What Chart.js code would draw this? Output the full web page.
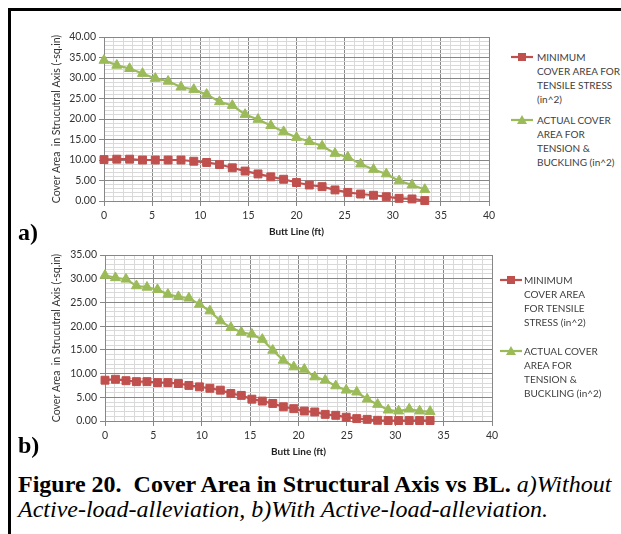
<!DOCTYPE html>
<html>
<head>
<meta charset="utf-8">
<script src="https://cdn.jsdelivr.net/npm/chart.js@4.4.1/dist/chart.umd.min.js"></script>
<style>
  html, body { margin: 0; padding: 0; background: #fff; }
  body { width: 621px; height: 534px; position: relative; overflow: hidden; }
  .frame { position: absolute; left: 8px; top: 8px; width: 640px; height: 560px;
           border-top: 3px solid #000; border-left: 3px solid #000; box-sizing: border-box; }
  .cv { position: absolute; }
  .lbl { position: absolute; font-family: "Liberation Serif", serif; font-weight: bold; font-size: 24px; color: #000; }
  .legend { position: absolute; font-family: Lato, "Open Sans", sans-serif; font-size: 10px;
            color: #404040; line-height: 14px; white-space: nowrap; }
  .legend .item { position: relative; }
  .legend svg { position: absolute; top: 0; }
  .caption { position: absolute; left: 18px; top: 472px; font-family: "Liberation Serif", "Times New Roman", serif;
             font-size: 24px; line-height: 25px; color: #000; white-space: nowrap; }
</style>
</head>
<body>
<div class="frame"></div>
<div class="cv" style="left:10px;top:25px;width:489px;height:213px;"><canvas id="chartA"></canvas></div>
<div class="cv" style="left:11px;top:243px;width:491px;height:215px;"><canvas id="chartB"></canvas></div>

<div class="lbl" style="left:18px;top:219px;">a)</div>
<div class="lbl" style="left:18px;top:432px;">b)</div>

<div class="legend" style="left:511px;top:50px;">
  <div class="item" style="padding-left:26px;">
    <svg width="24" height="14" style="left:0;"><line x1="0" y1="7" x2="22" y2="7" stroke="#C0504D" stroke-width="2.2"/><rect x="7" y="3" width="8" height="8" fill="#C0504D"/></svg>
    MINIMUM<br>COVER AREA FOR<br>TENSILE STRESS<br>(in^2)
  </div>
  <div class="item" style="padding-left:26px;margin-top:7px;">
    <svg width="24" height="14" style="left:0;"><line x1="0" y1="7" x2="22" y2="7" stroke="#9BBB59" stroke-width="2.2"/><polygon points="11,2 16,11 6,11" fill="#9BBB59"/></svg>
    ACTUAL COVER<br>AREA FOR<br>TENSION &amp;<br>BUCKLING (in^2)
  </div>
</div>

<div class="legend" style="left:500px;top:273px;">
  <div class="item" style="padding-left:24px;">
    <svg width="24" height="14" style="left:0;"><line x1="0" y1="7" x2="22" y2="7" stroke="#C0504D" stroke-width="2.2"/><rect x="7" y="3" width="8" height="8" fill="#C0504D"/></svg>
    MINIMUM<br>COVER AREA<br>FOR TENSILE<br>STRESS (in^2)
  </div>
  <div class="item" style="padding-left:24px;margin-top:15px;">
    <svg width="24" height="14" style="left:0;"><line x1="0" y1="7" x2="22" y2="7" stroke="#9BBB59" stroke-width="2.2"/><polygon points="11,2 16,11 6,11" fill="#9BBB59"/></svg>
    ACTUAL COVER<br>AREA FOR<br>TENSION &amp;<br>BUCKLING (in^2)
  </div>
</div>

<div class="caption"><b>Figure 20.&nbsp; Cover Area in Structural Axis vs BL.</b> <i>a)Without</i><br><i>Active-load-alleviation, b)With Active-load-alleviation.</i></div>

<script>
// ---- Data ----
const xA = [0, 1.33, 2.66, 4.0, 5.33, 6.66, 8.0, 9.33, 10.66, 12.0, 13.33, 14.66, 16.0,
            17.33, 18.66, 20.0, 21.33, 22.66, 24.0, 25.33, 26.66, 28.0, 29.33, 30.66, 32.0, 33.33];
const minAreaA = [10.1, 10.2, 10.2, 10.0, 10.0, 10.0, 10.0, 9.7, 9.4, 8.9, 8.1, 7.3, 6.6,
                  5.9, 5.3, 4.5, 3.9, 3.5, 2.7, 2.1, 1.7, 1.4, 1.05, 0.65, 0.5, 0.1];
const actAreaA = [34.3, 33.1, 32.3, 31.1, 29.9, 29.2, 27.8, 27.2, 26.0, 24.2, 23.3, 21.1, 19.9,
                  18.4, 16.9, 15.5, 14.5, 13.4, 11.6, 10.7, 9.0, 7.7, 6.6, 4.9, 3.9, 2.8];

const xB = [0, 1.08, 2.17, 3.25, 4.34, 5.42, 6.5, 7.59, 8.67, 9.76, 10.84, 11.92, 13.01, 14.09,
            15.18, 16.26, 17.34, 18.43, 19.51, 20.6, 21.68, 22.76, 23.85, 24.93, 26.02, 27.1,
            28.18, 29.27, 30.35, 31.44, 32.52, 33.6];
const minAreaB = [8.6, 8.8, 8.5, 8.3, 8.3, 8.1, 8.1, 7.9, 7.5, 7.2, 6.9, 6.5, 5.8, 5.4, 4.6, 4.2,
                  3.7, 3.0, 2.6, 2.1, 1.9, 1.4, 1.2, 0.8, 0.5, 0.35, 0.15, 0.1, 0.1, 0.1, 0.1, 0.1];
const actAreaB = [30.7, 30.2, 29.9, 28.5, 28.2, 27.7, 26.7, 26.2, 25.9, 24.6, 23.2, 21.1, 19.7,
                  18.7, 18.3, 17.2, 14.9, 12.8, 11.4, 10.9, 9.3, 8.6, 7.4, 6.5, 6.1, 4.6, 3.5,
                  2.3, 2.1, 2.5, 2.1, 2.0];

const seriesNames = ['MINIMUM COVER AREA FOR TENSILE STRESS (in^2)',
                     'ACTUAL COVER AREA FOR TENSION & BUCKLING (in^2)'];
const xTitle = 'Butt Line (ft)';
const yTitle = 'Cover Area  in Strucutral Axis (-sq.in)';
const xMax = 40;
const yMaxA = 40;
const yMaxB = 35;

// ---- Styles ----
const RED = '#C0504D', GREEN = '#9BBB59';
const MAJOR = '#878787', MINOR = '#D9D9D9';
const TICK_FONT = { family: 'Lato, "Open Sans", sans-serif', size: 10.5 };

function toPts(xs, ys) { return xs.map((x, i) => ({ x: x, y: ys[i] })); }
function isMajor(ctx) { return ctx.tick && Math.abs(ctx.tick.value % 5) < 1e-9; }

function makeChart(id, xs, mins, acts, yMax, titlePad) {
  return new Chart(document.getElementById(id), {
    type: 'line',
    data: {
      datasets: [
        { label: seriesNames[0], data: toPts(xs, mins), borderColor: RED, backgroundColor: RED,
          borderWidth: 2.2, pointStyle: 'rect', pointRadius: 5.6, pointBorderWidth: 1,
          pointBorderColor: RED, pointBackgroundColor: RED, clip: false, tension: 0 },
        { label: seriesNames[1], data: toPts(xs, acts), borderColor: GREEN, backgroundColor: GREEN,
          borderWidth: 2.2, pointStyle: 'triangle', pointRadius: 5.8, pointBorderWidth: 1,
          pointBorderColor: GREEN, pointBackgroundColor: GREEN, clip: false, tension: 0 }
      ]
    },
    options: {
      responsive: true, maintainAspectRatio: false, animation: false,
      layout: { padding: { top: 12, right: 10, bottom: 0, left: 0 } },
      plugins: { legend: { display: false }, tooltip: { enabled: false } },
      scales: {
        x: {
          type: 'linear', min: 0, max: xMax,
          ticks: { stepSize: 1, autoSkip: false, maxRotation: 0, padding: 3, color: '#333', font: TICK_FONT,
                   callback: v => (v % 5 === 0 ? String(v) : '') },
          grid: { color: c => isMajor(c) ? MAJOR : MINOR, tickColor: c => isMajor(c) ? MAJOR : 'rgba(0,0,0,0)',
                  tickLength: 5, lineWidth: 1 },
          border: { color: MAJOR, width: 1 },
          title: { display: true, text: xTitle, color: '#222', padding: { top: 0, bottom: 0 },
                   font: { family: 'Lato, "Open Sans", sans-serif', size: 10, weight: 'bold' } },
          afterFit: s => { s.height = 37; }
        },
        y: {
          type: 'linear', min: 0, max: yMax,
          ticks: { stepSize: 1, autoSkip: false, padding: 3, color: '#333', font: TICK_FONT,
                   callback: v => (v % 5 === 0 ? v.toFixed(2) : '') },
          grid: { color: c => isMajor(c) ? MAJOR : MINOR, tickColor: c => isMajor(c) ? MAJOR : 'rgba(0,0,0,0)',
                  tickLength: 5, lineWidth: 1 },
          border: { color: MAJOR, width: 1 },
          title: { display: true, text: yTitle, color: '#333', padding: { top: titlePad, bottom: 0 },
                   font: { family: 'Lato, "Open Sans", sans-serif', size: 10.5 } },
          afterFit: s => { s.width = 94; }
        }
      }
    }
  });
}

makeChart('chartA', xA, minAreaA, actAreaA, yMaxA, 40);
makeChart('chartB', xB, minAreaB, actAreaB, yMaxB, 39);
</script>
</body>
</html>
